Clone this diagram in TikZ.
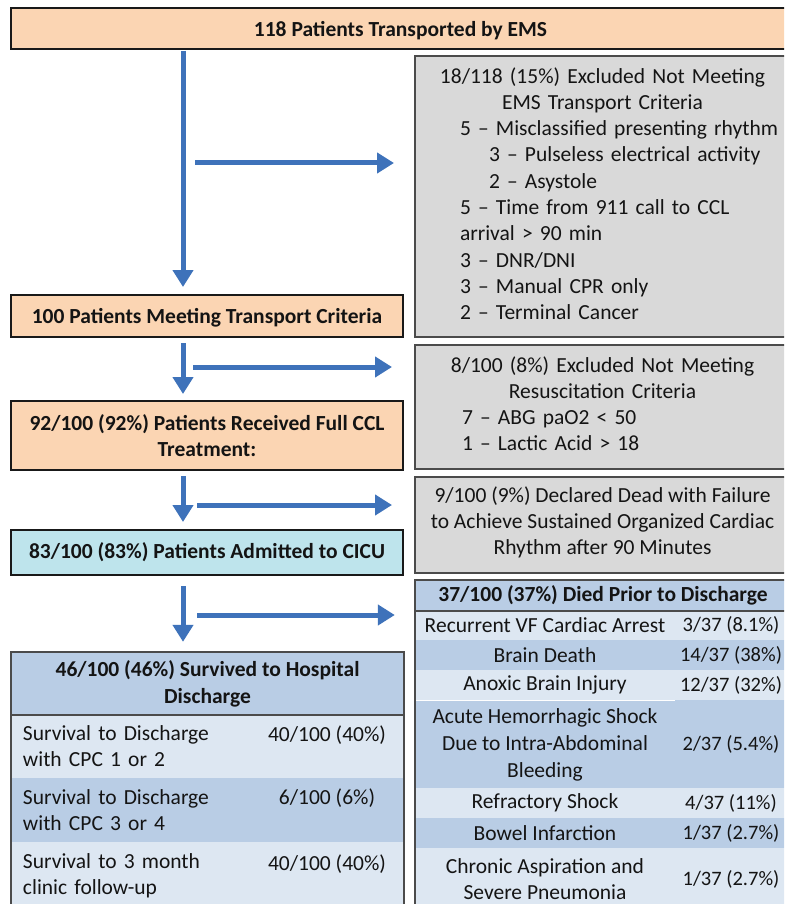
\documentclass[tikz,border=0pt]{standalone}
\usepackage{fontspec}
\setmainfont{Carlito}
\usetikzlibrary{arrows.meta,calc}
\definecolor{peach}{RGB}{251,213,179}
\definecolor{graybox}{RGB}{217,217,217}
\definecolor{cicu}{RGB}{190,228,236}
\definecolor{tmed}{RGB}{185,205,229}
\definecolor{tlight}{RGB}{221,231,242}
\definecolor{arrblue}{RGB}{62,114,186}
\definecolor{edge}{RGB}{25,25,25}
\definecolor{gedge}{RGB}{75,75,75}
\definecolor{ink}{RGB}{20,20,20}
\newcommand{\lowstrut}[1]{\rule[-#1]{0pt}{#1}}
\tikzset{
  txt/.style={font=\fontsize{21.5}{26}\selectfont, text=ink},
  mainbox/.style={txt, draw=edge, line width=2pt, fill=peach, inner sep=0pt, align=center, font=\fontsize{21.5}{26}\selectfont\bfseries},
  icubox/.style={mainbox, fill=cicu},
  exclbox/.style={txt, draw=gedge, line width=2pt, fill=graybox, inner sep=0pt},
  cell/.style={txt, inner sep=0pt, draw=none},
  lightcell/.style={cell, fill=tlight},
  medcell/.style={cell, fill=tmed},
  valcell/.style={font=\fontsize{20.5}{25}\selectfont},
  tborder/.style={draw=gedge, line width=2pt},
  flowarrow/.style={draw=arrblue, line width=5pt, -{Triangle[width=20pt,length=17pt]}}
}
\begin{document}
\begin{tikzpicture}[x=1pt,y=-1pt]
\useasboundingbox (0,0) rectangle (784,904);
\fill[white] (0,0) rectangle (784,904);
\clip (0,0) rectangle (784,904);

% main flow boxes
\node[mainbox, minimum width=779pt, minimum height=41pt, text depth=0pt] (top) at (400.5,28.5) {118 Patients Transported by EMS};
\node[mainbox, minimum width=392pt, minimum height=42pt, text depth=0pt] (b100) at (207,316) {100 Patients Meeting Transport Criteria};
\node[mainbox, minimum width=392pt, minimum height=69pt] (b92) at (207,435.5) {92/100 (92\%) Patients Received Full CCL\\Treatment:};
\node[icubox, minimum width=392pt, minimum height=45pt] (cicu) at (207,552.5) {83/100 (83\%) Patients Admitted to CICU};

% exclusion boxes
\node[exclbox, minimum width=375pt, minimum height=281pt, text width=375pt, align=left, font=\fontsize{21.5}{26.3}\selectfont] (g1) at (602.5,196.5) {%
\makebox[375pt][c]{18/118 (15\%) Excluded Not Meeting}\\
\makebox[375pt][c]{EMS Transport Criteria}\\
\hspace*{45pt}5 – Misclassified presenting rhythm\\
\hspace*{74pt}3 – Pulseless electrical activity\\
\hspace*{74pt}2 – Asystole\\
\hspace*{45pt}5 – Time from 911 call to CCL\\
\hspace*{45pt}arrival > 90 min\\
\hspace*{45pt}3 – DNR/DNI\\
\hspace*{45pt}3 – Manual CPR only\\
\hspace*{45pt}2 – Terminal Cancer\lowstrut{6pt}};
\node[exclbox, minimum width=375pt, minimum height=124pt, text width=375pt, align=left] (g2) at (602.5,407) {%
\makebox[375pt][c]{8/100 (8\%) Excluded Not Meeting}\\
\makebox[375pt][c]{Resuscitation Criteria}\\
\hspace*{47pt}7 – ABG paO2 < 50\\
\hspace*{47pt}1 – Lactic Acid > 18\lowstrut{6pt}};
\node[exclbox, minimum width=375pt, minimum height=96pt, align=center] (g3) at (602.5,525) {9/100 (9\%) Declared Dead with Failure\\to Achieve Sustained Organized Cardiac\\Rhythm after 90 Minutes\lowstrut{8.5pt}};

% left table (survivors)
\node[medcell, minimum width=393pt, minimum height=63pt, align=center, font=\fontsize{21.5}{27}\selectfont\bfseries] (lth) at (207.5,683.5) {46/100 (46\%) Survived to Hospital\\Discharge};
\node[lightcell, minimum width=239pt, minimum height=63pt, text width=215pt, inner xsep=12pt, align=left] (l1a) at (130.5,746.5) {Survival to Discharge\\with CPC 1 or 2};
\node[lightcell, minimum width=154pt, minimum height=63pt, align=center] (l1b) at (327,746.5) {40/100 (40\%)\\\mbox{}};
\node[medcell, minimum width=239pt, minimum height=64pt, text width=215pt, inner xsep=12pt, align=left] (l2a) at (130.5,810) {Survival to Discharge\\with CPC 3 or 4};
\node[medcell, minimum width=154pt, minimum height=64pt, align=center] (l2b) at (327,810) {6/100 (6\%)\\\mbox{}};
\node[lightcell, minimum width=239pt, minimum height=68pt, text width=215pt, inner xsep=12pt, align=left] (l3a) at (130.5,876) {Survival to 3 month\\clinic follow-up};
\node[lightcell, minimum width=154pt, minimum height=68pt, align=center] (l3b) at (327,876) {40/100 (40\%)\\\mbox{}};
\draw[tborder] (lth.north west) rectangle (l3b.south east);
\draw[tborder] (lth.south west) -- (lth.south east);

% right table (deaths)
\node[medcell, minimum width=376pt, minimum height=31pt, align=center, font=\fontsize{21.5}{26}\selectfont\bfseries] (rth) at (603,595.5) {37/100 (37\%) Died Prior to Discharge};
\node[lightcell, minimum width=260pt, minimum height=29pt, align=center] (r1a) at (545,625.5) {Recurrent VF Cardiac Arrest};
\fill[tlight] (675,611) rectangle (791,640);
\node[valcell, text=ink] (r1b) at (731,625.5) {3/37 (8.1\%)};
\node[medcell, minimum width=260pt, minimum height=30pt, align=center] (r2a) at (545,655) {Brain Death};
\fill[tmed] (675,640) rectangle (791,670);
\node[valcell, text=ink] (r2b) at (731,655) {14/37 (38\%)};
\node[lightcell, minimum width=260pt, minimum height=30pt, align=center] (r3a) at (545,685) {Anoxic Brain Injury};
\fill[tlight] (675,670) rectangle (791,700);
\node[valcell, text=ink] (r3b) at (731,685) {12/37 (32\%)};
\node[medcell, minimum width=260pt, minimum height=88pt, align=center, font=\fontsize{21.5}{27}\selectfont] (r4a) at (545,745) {Acute Hemorrhagic Shock\\Due to Intra-Abdominal\\Bleeding};
\fill[tmed] (675,700) rectangle (791,788);
\node[valcell, text=ink] (r4b) at (731,744) {2/37 (5.4\%)};
\node[lightcell, minimum width=260pt, minimum height=30pt, align=center] (r5a) at (545,803) {Refractory Shock};
\fill[tlight] (675,788) rectangle (791,818);
\node[valcell, text=ink] (r5b) at (731,803) {4/37 (11\%)};
\node[medcell, minimum width=260pt, minimum height=30pt, align=center] (r6a) at (545,833) {Bowel Infarction};
\fill[tmed] (675,818) rectangle (791,848);
\node[valcell, text=ink] (r6b) at (731,833) {1/37 (2.7\%)};
\node[lightcell, minimum width=260pt, minimum height=62pt, align=center] (r7a) at (545,879) {Chronic Aspiration and\\Severe Pneumonia};
\fill[tlight] (675,848) rectangle (791,910);
\node[valcell, text=ink] (r7b) at (731,879) {1/37 (2.7\%)};
\draw[tborder] (rth.north west) rectangle (791,910);
\draw[tborder] (rth.south west) -- (rth.south east);

% connectors
\coordinate (ax) at (183,0);
\coordinate (h1) at (195,163);
\coordinate (h2) at (193,367);
\coordinate (h3) at (197,505);
\coordinate (h4) at (197,615);
\draw[flowarrow, shorten <=1pt, shorten >=7pt] (top.south -| ax) -- (b100.north -| ax);
\draw[flowarrow, shorten <=5pt, shorten >=6pt] (b100.south -| ax) -- (b92.north -| ax);
\draw[flowarrow, shorten <=5pt, shorten >=7pt] (b92.south -| ax) -- (cicu.north -| ax);
\draw[flowarrow, shorten <=10pt, shorten >=10pt] (cicu.south -| ax) -- (lth.north -| ax);
\draw[flowarrow, shorten >=20pt] (h1) -- (h1 -| g1.west);
\draw[flowarrow, shorten >=22pt] (h2) -- (h2 -| g2.west);
\draw[flowarrow, shorten >=22pt] (h3) -- (h3 -| g3.west);
\draw[flowarrow, shorten >=20pt] (h4) -- (h4 -| rth.west);
\end{tikzpicture}
\end{document}
